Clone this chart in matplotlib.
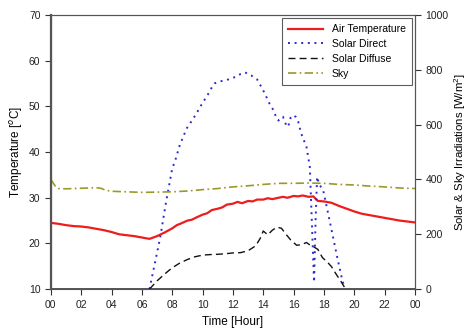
import numpy as np
import matplotlib.pyplot as plt

plt.rcParams['font.family'] = ['Liberation Sans', 'DejaVu Sans']
plt.rcParams['mathtext.fontset'] = 'custom'
plt.rcParams['mathtext.rm'] = 'Liberation Sans'

# Air temperature [C] (left axis)
air_hours = [0, 0.5, 1, 1.5, 2, 2.5, 3, 3.5, 4, 4.5, 5, 5.5, 6, 6.5, 7, 7.5,
             8, 8.3, 8.6, 9, 9.3, 9.6, 10, 10.3, 10.6, 11, 11.3, 11.6, 12, 12.3,
             12.6, 13, 13.3, 13.6, 14, 14.3, 14.6, 15, 15.3, 15.6, 16, 16.3, 16.6,
             17, 17.3, 17.6, 18, 18.5, 19, 19.5, 20, 20.5, 21, 21.5, 22, 22.5,
             23, 23.5, 24]
air_temp = [24.5, 24.3, 24.0, 23.8, 23.7, 23.5, 23.2, 22.9, 22.5, 22.0, 21.8, 21.6,
            21.3, 21.0, 21.6, 22.4, 23.3, 24.0, 24.4, 25.0, 25.2, 25.7, 26.3, 26.6,
            27.3, 27.6, 27.9, 28.5, 28.7, 29.1, 28.8, 29.3, 29.2, 29.6, 29.6, 29.9,
            29.7, 30.0, 30.2, 30.0, 30.4, 30.3, 30.5, 30.2, 30.3, 29.3, 29.2, 28.9,
            28.2, 27.6, 27.0, 26.5, 26.2, 25.9, 25.6, 25.3, 25.0, 24.8, 24.6]

# Sky irradiation [W/m2] (right axis)
sky_hours = [0, 0.3, 0.5, 1, 2, 3, 3.3, 3.6, 4, 5, 6, 7, 8, 9, 10, 11, 12, 13,
             14, 15, 16, 17, 18, 19, 20, 21, 22, 23, 24]
sky = [400, 375, 367, 366, 368, 370, 368, 361, 357, 355, 353, 354, 355, 358, 363,
       367, 373, 377, 382, 386, 386, 387, 386, 382, 380, 376, 373, 369, 367]

# Solar direct [W/m2] (right axis)
direct_hours = [6.5, 6.8, 7.2, 7.6, 8.0, 8.2, 8.5, 8.95, 9.3, 9.6, 10.0, 10.3, 10.6,
                10.8, 11.0, 11.3, 11.6, 11.9, 12.24, 12.5, 12.8, 13.0, 13.2, 13.4,
                13.6, 13.8, 14.0, 14.2, 14.4, 14.6, 14.8, 15.0, 15.1, 15.3, 15.5,
                15.64, 15.8, 15.97, 16.15, 16.3, 16.5, 16.7, 16.85, 17.07, 17.2,
                17.35, 17.45, 17.55, 17.7, 17.85, 17.95, 18.3, 18.6, 18.9, 19.2, 19.35]
direct = [0, 80, 186, 320, 440, 470, 526, 586, 615, 641, 680, 705, 735, 751, 755,
          760, 763, 770, 775, 785, 791, 785, 780, 772, 765, 745, 725, 702, 678, 660,
          635, 615, 620, 629, 600, 592, 625, 635, 628, 612, 568, 540, 519, 446, 250,
          25, 250, 410, 380, 370, 361, 270, 190, 110, 35, 5]

# Solar diffuse [W/m2] (right axis)
diffuse_hours = [6.5, 7, 7.5, 8, 8.5, 9, 9.5, 10, 10.5, 11, 11.5, 12, 12.5, 13,
                 13.5, 13.8, 14.0, 14.3, 14.6, 14.9, 15.2, 15.5, 15.8, 16.2, 16.5,
                 16.85, 17.1, 17.3, 17.6, 17.9, 18.2, 18.5, 18.8, 19.1, 19.4]
diffuse = [0, 30, 55, 78, 95, 108, 118, 124, 126, 127, 129, 132, 133, 140, 158,
           185, 212, 198, 215, 226, 222, 200, 180, 160, 162, 170, 160, 155, 145,
           115, 100, 82, 55, 30, 3]

xticks = list(range(0, 25, 2))
xticklabels = ['%02d' % (h % 24) for h in xticks]

fig = plt.figure(figsize=(4.71, 3.35), dpi=100)
ax = fig.add_axes([0.108, 0.137, 0.773, 0.818])
ax2 = ax.twinx()

l1, = ax.plot(air_hours, air_temp, color='#ee1c1c', lw=1.6, label='Air Temperature')
l2, = ax2.plot(direct_hours, direct, color='#2a2ad0', lw=1.4, ls=(0, (1, 2.4)),
               label='Solar Direct')
l3, = ax2.plot(diffuse_hours, diffuse, color='#111111', lw=1.0, ls=(0, (5, 3)),
               label='Solar Diffuse')
l4, = ax2.plot(sky_hours, sky, color='#9a9a28', lw=1.2, ls=(0, (5, 2, 1, 2)),
               label='Sky')

ax.set_xlim(0, 24)
ax.set_ylim(10, 70)
ax2.set_ylim(0, 1000)
ax.set_xticks(xticks)
ax.set_xticklabels(xticklabels)
ax.set_yticks(range(10, 71, 10))
ax2.set_yticks(range(0, 1001, 200))

ax.set_xlabel('Time [Hour]', fontsize=8.5, labelpad=5)
ax.set_ylabel('Temperature [$^{o}$C]', fontsize=8.5, labelpad=3)
ax2.set_ylabel('Solar & Sky Irradiations [W/m$^{2}$]', fontsize=8.2, labelpad=3)

for a in (ax, ax2):
    a.tick_params(direction='out', length=4, width=0.8, colors='#333333',
                  labelsize=7.5, labelcolor='#222222')
    for s in a.spines.values():
        s.set_color('#555555')
        s.set_linewidth(0.8)
ax.spines['left'].set_linewidth(1.6)
ax.spines['bottom'].set_linewidth(1.4)

leg = ax.legend(handles=[l1, l2, l3, l4], loc='upper right', fontsize=7.5,
                frameon=True, fancybox=False, borderaxespad=0.3,
                handlelength=3.4, labelspacing=0.45, borderpad=0.6)
leg.get_frame().set_edgecolor('#333333')
leg.get_frame().set_linewidth(0.8)

fig.savefig('out.png', dpi=100)
